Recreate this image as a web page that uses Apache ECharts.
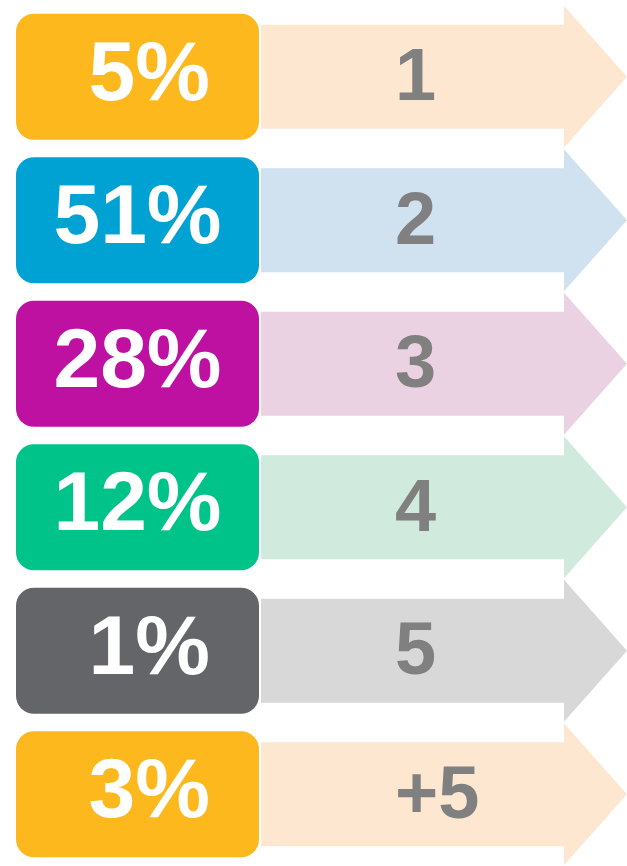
<!DOCTYPE html>
<html>
<head>
<meta charset="utf-8">
<style>
    html, body { margin: 0; padding: 0; background: #ffffff; }
    #mychart { width: 627px; height: 866px; }
</style>
<script src="https://cdn.jsdelivr.net/npm/echarts@6/dist/echarts.min.js"></script>
</head>
<body>
<div id="mychart"></div>
<script>
// row data
var rowNames = ['1', '2', '3', '4', '5', '+5'];
var percents = [5, 51, 28, 12, 1, 3];
var boxColors = ['#FDB81E', '#00A2D4', '#BF11A1', '#00C389', '#636569', '#FDB81E'];
var arrowColors = ['#FEE7D1', '#D0E1EF', '#EBD2E3', '#D0EADD', '#D8D8D8', '#FEE7D1'];

var myChart = echarts.init(document.getElementById('mychart'));

var seriesData = [];
for (var i = 0; i < rowNames.length; i++) {
    seriesData.push([i, percents[i], rowNames[i]]);
}

//每一行：左边圆角色块 + 右边浅色箭头
function renderRow(params, api) {
    var idx = api.value(0);
    var pct = api.value(1);
    var name = rowNames[idx];
    var center = api.coord([0, idx]);
    var cy = center[1];
    var x = function (v) { return api.coord([v, idx])[0]; };

    var boxL = x(16), boxR = x(259);
    var bodyL = x(261), headX = x(564), tipX = x(627);
    var pctText = (pct < 10 ? ' ' : '') + pct + '%';

    return {
        type: 'group',
        children: [
            {
                type: 'polygon',
                shape: {
                    points: [
                        [bodyL, cy - 52], [headX, cy - 52], [headX, cy - 71],
                        [tipX, cy], [headX, cy + 71], [headX, cy + 52], [bodyL, cy + 52]
                    ]
                },
                style: { fill: arrowColors[idx] }
            },
            {
                type: 'rect',
                shape: { x: boxL, y: cy - 63, width: boxR - boxL, height: 126, r: 18 },
                style: { fill: boxColors[idx] }
            },
            {
                type: 'text',
                x: (boxL + boxR) / 2,
                y: cy,
                style: {
                    text: pctText,
                    fill: '#ffffff',
                    font: 'bold 84px "Liberation Sans", Arial, sans-serif',
                    align: 'center',
                    verticalAlign: 'middle'
                }
            },
            {
                type: 'text',
                x: x(395),
                y: cy + 3,
                style: {
                    text: name,
                    fill: '#808080',
                    font: 'bold 74px "Liberation Sans", Arial, sans-serif',
                    align: 'left',
                    verticalAlign: 'middle'
                }
            }
        ]
    };
}

var option = {
    animation: false,
    grid: { left: 0, right: 0, top: 5, bottom: -5 },
    xAxis: { type: 'value', min: 0, max: 627, show: false },
    yAxis: {
        type: 'category',
        data: rowNames,
        inverse: true,
        show: false
    },
    series: [
        {
            type: 'custom',
            renderItem: renderRow,
            encode: { x: 1, y: 0 },
            data: seriesData
        }
    ]
};
myChart.setOption(option);
</script>
</body>
</html>
